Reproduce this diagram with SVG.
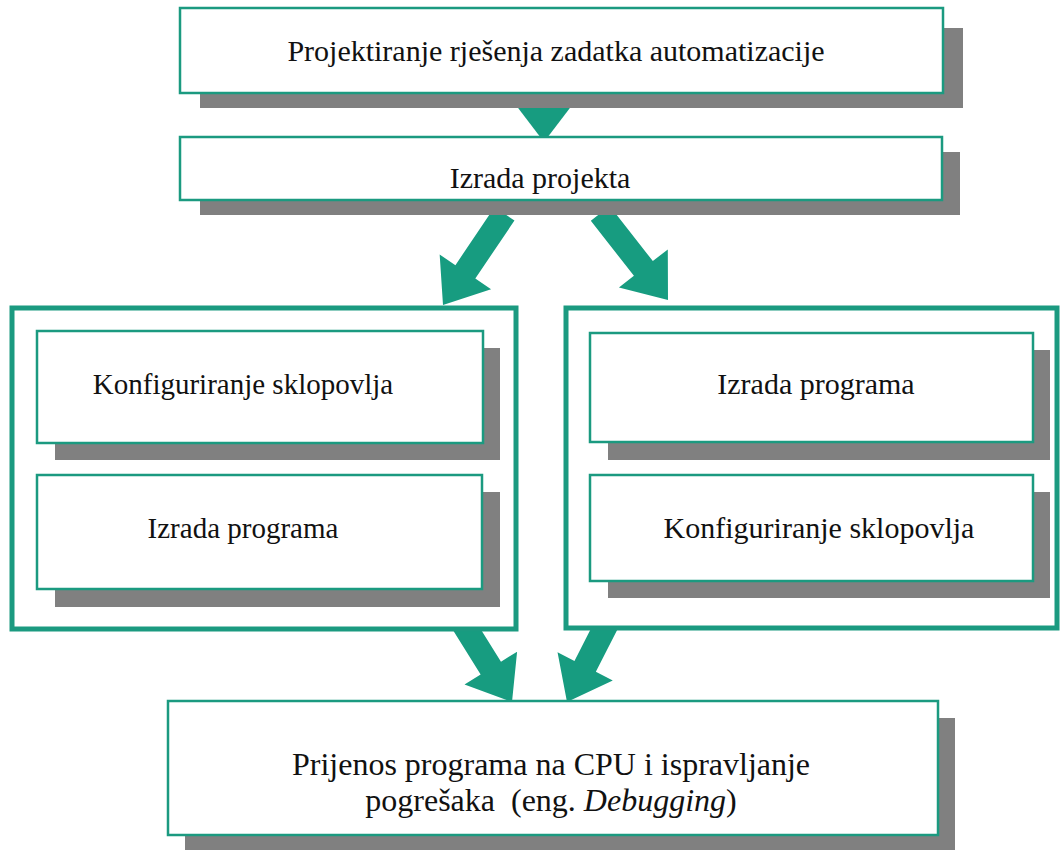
<svg xmlns="http://www.w3.org/2000/svg" width="1060" height="850" viewBox="0 0 1060 850">
<style>
.shadow{fill:#808080}
.box{fill:#ffffff;stroke:#1b9a80;stroke-width:2.5}
.frame{fill:#ffffff;stroke:#1b9a80;stroke-width:5}
.arrow{fill:#179c80}
text{font-family:"Liberation Serif","Times New Roman",serif;font-size:30px;fill:#111;text-anchor:middle}
.sm{font-size:29px}
.lg{font-size:32px}
</style>
<defs>
<polygon id="arr" points="0,0 -31,-40 -12,-40 -12,-110 12,-110 12,-40 31,-40"/>
</defs>
<rect width="1060" height="850" fill="#ffffff"/>
<g id="connectors">
<polygon class="arrow" points="512,100 576,100 544,142"/>
<use href="#arr" class="arrow" transform="translate(443,305) rotate(34)"/>
<use href="#arr" class="arrow" transform="translate(668,300) rotate(-38)"/>
<use href="#arr" class="arrow" transform="translate(512,702) rotate(-32)"/>
<use href="#arr" class="arrow" transform="translate(567,702) rotate(27)"/>
</g>
<g id="n1">
<rect class="shadow" x="200" y="28" width="763" height="80"/>
<rect class="box" x="180" y="8" width="763" height="85"/>
<text x="556" y="61">Projektiranje rješenja zadatka automatizacije</text>
</g>
<g id="n2">
<rect class="shadow" x="200" y="152" width="760" height="63"/>
<rect class="box" x="180" y="137" width="762" height="63"/>
<text x="540" y="188">Izrada projekta</text>
</g>
<g id="left">
<rect class="frame" x="12" y="308" width="504" height="321"/>
<g id="l1">
<rect class="shadow" x="55" y="348" width="445" height="112"/>
<rect class="box" x="37" y="331" width="446" height="112"/>
<text class="sm" x="243" y="394">Konfiguriranje sklopovlja</text>
</g>
<g id="l2">
<rect class="shadow" x="55" y="492" width="445" height="115"/>
<rect class="box" x="37" y="475" width="445" height="114"/>
<text class="sm" x="243" y="538">Izrada programa</text>
</g>
</g>
<g id="right">
<rect class="frame" x="566" y="308" width="491" height="320"/>
<g id="r1">
<rect class="shadow" x="608" y="350" width="442" height="110"/>
<rect class="box" x="590" y="333" width="443" height="109"/>
<text x="816" y="394">Izrada programa</text>
</g>
<g id="r2">
<rect class="shadow" x="608" y="492" width="442" height="106"/>
<rect class="box" x="590" y="475" width="443" height="106"/>
<text x="819" y="538">Konfiguriranje sklopovlja</text>
</g>
</g>
<g id="n3">
<rect class="shadow" x="185" y="718" width="770" height="132"/>
<rect class="box" x="168" y="701" width="770" height="134"/>
<text class="lg" x="551" y="775">Prijenos programa na CPU i ispravljanje</text>
<text class="lg" x="551" y="811" xml:space="preserve">pogrešaka  (eng. <tspan font-style="italic">Debugging</tspan>)</text>
</g>
</svg>
